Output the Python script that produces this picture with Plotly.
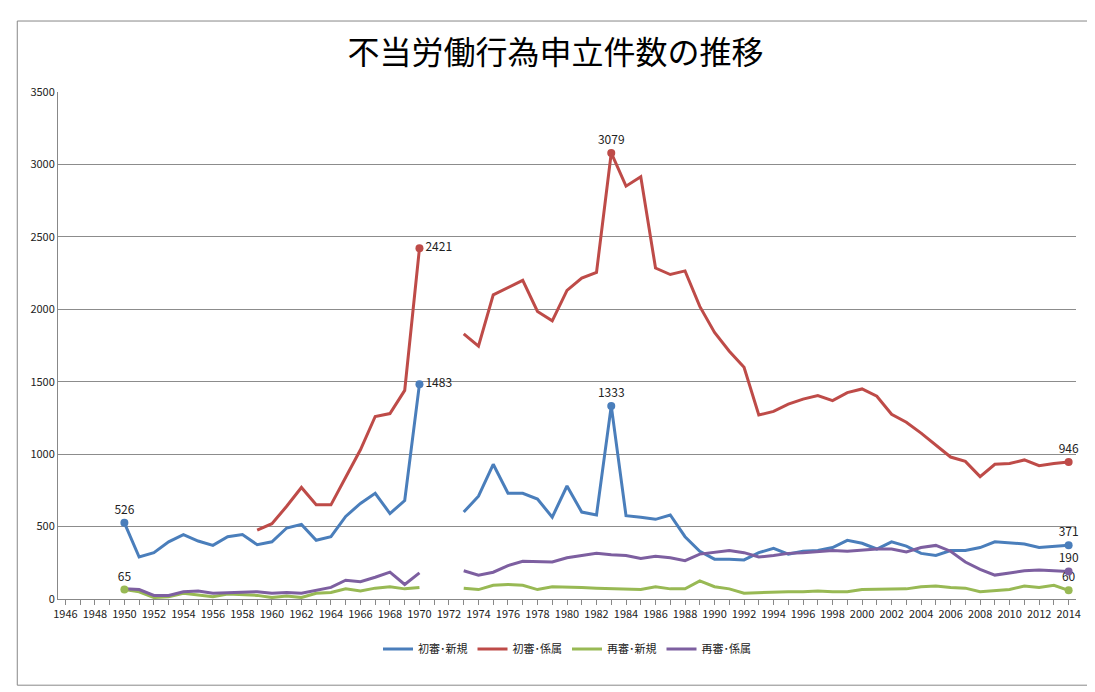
import plotly.graph_objects as go

years = list(range(1950, 2015))
gap = [None, None]
blue = [526,290,320,395,445,400,370,430,445,375,395,490,515,405,430,570,660,730,590,680,1483] + gap + \
 [600,710,930,730,730,690,565,780,600,580,1333,575,565,550,580,430,330,275,275,270,320,350,310,330,335,355,405,385,345,395,365,315,300,335,335,355,395,385,380,355,365,371]
red = [None]*9 + [475,520,640,770,650,650,840,1030,1260,1280,1440,2421] + gap + \
 [1830,1745,2100,2150,2200,1985,1920,2130,2215,2255,3079,2850,2915,2285,2240,2265,2020,1840,1710,1600,1270,1295,1345,1380,1405,1370,1425,1450,1400,1275,1220,1145,1065,980,950,845,930,935,960,920,935,946]
green = [65,50,10,15,40,30,15,35,30,25,10,20,10,40,45,70,55,75,85,70,80] + gap + \
 [75,65,95,100,95,65,85,85,80,75,70,70,65,85,70,70,125,85,70,40,45,50,50,50,55,50,50,65,65,65,70,85,90,80,75,50,55,65,90,80,95,60]
purple = [70,65,25,25,50,55,40,45,50,50,40,45,40,60,80,130,120,150,185,100,180] + gap + \
 [195,165,185,230,260,255,255,285,300,315,305,300,280,295,285,265,310,320,335,320,290,300,315,320,330,335,330,340,345,345,325,355,370,330,255,205,165,180,195,200,195,190]

names = ["初審･新規", "初審･係属", "再審･新規", "再審･係属"]
colors = ["#4a7ebb", "#be4b48", "#98b954", "#7d5fa0"]
series = [blue, red, green, purple]
labels = [(0,1950,"top center"),(0,1970,"middle right"),(0,1983,"top center"),(0,2014,"top center"),
          (1,1970,"middle right"),(1,1983,"top center"),(1,2014,"top center"),
          (2,1950,"top center"),(2,2014,"top center"),(3,2014,"top center")]

fig = go.Figure()
for n, c, s in zip(names, colors, series):
    fig.add_trace(go.Scatter(x=years, y=s, name=n, mode="lines", line=dict(color=c, width=3), connectgaps=False))
for si, yr, pos in labels:
    v = series[si][years.index(yr)]
    fig.add_trace(go.Scatter(x=[yr], y=[v], mode="markers+text", text=[str(v)], textposition=pos,
                             marker=dict(color=colors[si], size=8), textfont=dict(size=12, color="#222"),
                             showlegend=False, cliponaxis=False))

fig.update_layout(
    width=1095, height=692, paper_bgcolor="white", plot_bgcolor="white",
    margin=dict(l=50, r=27, t=84, b=101),
    font=dict(family="Noto Sans CJK JP, sans-serif", size=11, color="#222"),
    title=dict(text="不当労働行為申立件数の推移", x=0.5, xanchor="center", y=0.935, yanchor="middle",
               font=dict(size=32, color="black")),
    legend=dict(orientation="h", x=0.5, xanchor="center", y=-0.07, yanchor="top", font=dict(size=11)),
    xaxis=dict(range=[1945.5, 2014.5], tickmode="linear", tick0=1946, dtick=2, showgrid=False,
               showline=True, linecolor="#888", ticks="outside", ticklen=5, tickcolor="#888",
               minor=dict(ticks="outside", dtick=1, ticklen=5, tickcolor="#888"), tickfont=dict(size=11)),
    yaxis=dict(range=[0, 3500], dtick=500, showgrid=True, gridcolor="#8c8c8c", gridwidth=1,
               showline=True, linecolor="#888", zeroline=False, tickfont=dict(size=11)),
    shapes=[dict(type="rect", xref="paper", yref="paper", x0=-0.04, x1=1.018, y0=-0.17, y1=1.14,
                 line=dict(color="#888", width=1))],
)
fig.write_html("out.html")
